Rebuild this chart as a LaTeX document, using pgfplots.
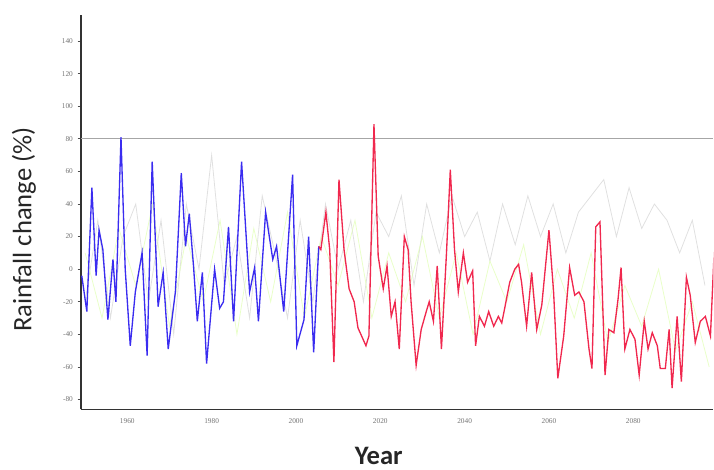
\documentclass[border=0pt]{standalone}
\usepackage{pgfplots}
\pgfplotsset{compat=1.18}
\usepackage{fontspec}
\setmainfont{Carlito}
\newfontfamily\tickfont{Liberation Serif}
\definecolor{blueline}{HTML}{3A2CF0}
\definecolor{redline}{HTML}{F0284E}
\begin{document}
\begin{tikzpicture}
\begin{axis}[
  scale only axis,
  width=474.75pt, height=296pt,
  xmin=1949, xmax=2099,
  ymin=-86, ymax=156,
  axis x line*=bottom,
  axis y line*=left,
  axis line style={black!80, line width=0.9pt},
  xtick={1960,1980,2000,2020,2040,2060,2080},
  ytick={-80,-60,-40,-20,0,20,40,60,80,100,120,140},
  major tick length=2.5pt,
  tick align=outside,
  tick style={black!70, line width=0.5pt},
  x tick style={draw=none},
  /pgf/number format/assume math mode=true,
  /pgf/number format/1000 sep={},
  ticklabel style={font=\tickfont\fontsize{5.5}{6}\selectfont, text=black!55},
  xticklabel style={yshift=-1pt},
  ylabel={Rainfall change (\%)},
  ylabel style={font=\fontsize{20}{22}\selectfont, text=black!85,
    at={(axis description cs:-0.09,0.456)}, anchor=center},
  xlabel={\textbf{Year}},
  xlabel style={font=\fontsize{20}{22}\selectfont, text=black!85,
    at={(axis description cs:0.471,0)}, anchor=center, yshift=-35pt},
  clip=true,
]
% faint background ensemble lines
\addplot[color=black!20, opacity=0.6, line width=0.6pt] coordinates {
(1950,-20) (1953,30) (1956,-30) (1959,20) (1962,40) (1965,-20) (1968,30) (1971,-40)
(1974,40) (1977,0) (1980,70) (1983,-10) (1986,20) (1989,-30) (1992,45) (1995,10)
(1998,-30) (2001,30) (2004,-20) (2007,40) (2010,0) (2013,30) (2016,-20) (2019,35)
(2022,20) (2025,45) (2028,-10) (2031,40) (2034,10) (2037,45) (2040,20) (2043,35)
(2046,5) (2049,40) (2052,15) (2055,45) (2058,20) (2061,40) (2064,10) (2067,35)
(2070,45) (2073,55) (2076,20) (2079,50) (2082,25) (2085,40) (2088,30) (2091,10)
(2094,30) (2097,-10)
};
\addplot[color=green!40!yellow!30, opacity=0.7, line width=0.6pt] coordinates {
(1950,10) (1954,-30) (1958,25) (1962,-10) (1966,40) (1970,-35) (1974,20) (1978,-20)
(1982,30) (1986,-40) (1990,25) (1994,-20) (1998,35) (2002,-30) (2006,20) (2010,-10)
(2014,30) (2018,-30) (2022,10) (2026,-20) (2030,20) (2034,-30) (2038,10) (2042,-40)
(2046,5) (2050,-20) (2054,15) (2058,-40) (2062,0) (2066,-30) (2070,10) (2074,-45)
(2078,-10) (2082,-35) (2086,0) (2090,-50) (2094,-20) (2098,-60)
};
% reference line at 80
\addplot[color=black!35, line width=0.6pt] coordinates {(1949,80) (2099,80)};
% observed / historical (blue)
\addplot[color=blueline, line width=1pt] coordinates {
(1949.2,-4) (1950.4,-26) (1951.6,50) (1952.6,-4) (1953.3,24) (1954.2,12) (1955.4,-31)
(1956.6,6) (1957.3,-20) (1958.5,81) (1959.5,0) (1960.7,-47) (1961.9,-14) (1963.5,10)
(1964.7,-53) (1965.9,66) (1967.3,-23) (1968.5,-2) (1969.7,-49) (1971.4,-14) (1972.8,59)
(1973.8,14) (1974.7,34) (1975.7,2) (1976.6,-32) (1977.8,-2) (1978.8,-58) (1980.7,0)
(1981.9,-24) (1982.8,-20) (1984.0,26) (1985.2,-32) (1987.1,66) (1989.0,-14) (1990.2,1)
(1991.1,-32) (1992.8,35) (1994.5,6) (1995.4,14) (1997.1,-26) (1999.2,58) (2000.2,-47)
(2001.9,-31) (2003.0,20) (2004.2,-51) (2005.4,14)
};
% projection (red)
\addplot[color=redline, line width=1pt] coordinates {
(2005.4,14) (2005.9,12) (2007.1,35) (2008.0,12) (2009.0,-57) (2010.2,55) (2011.4,12)
(2012.6,-12) (2013.8,-20) (2014.7,-36) (2016.6,-47) (2017.3,-41) (2018.5,89)
(2019.5,8) (2020.7,-12) (2021.6,2) (2022.6,-29) (2023.5,-20) (2024.5,-49) (2025.7,20)
(2026.6,12) (2027.3,-20) (2028.5,-59) (2029.7,-37) (2030.9,-26) (2031.6,-20)
(2032.6,-32) (2033.5,2) (2034.5,-49) (2035.7,10) (2036.6,61) (2037.6,12) (2038.5,-14)
(2039.7,10) (2040.7,-8) (2041.9,-1) (2042.6,-47) (2043.5,-29) (2044.7,-35) (2045.7,-26)
(2046.9,-35) (2048.0,-29) (2048.8,-33) (2049.5,-24) (2050.7,-8) (2051.9,0) (2052.8,3)
(2053.5,-8) (2054.7,-35) (2055.9,-2) (2057.1,-37) (2058.3,-22) (2060.0,24) (2061.1,-14)
(2062.1,-67) (2063.5,-41) (2064.9,1) (2066.1,-16) (2067.1,-14) (2068.3,-20) (2069.5,-49)
(2070.2,-61) (2071.1,26) (2072.1,29) (2073.3,-65) (2074.2,-37) (2075.4,-39) (2076.4,-18)
(2077.1,1) (2078.0,-49) (2079.2,-37) (2080.4,-43) (2081.4,-65) (2082.6,-32) (2083.5,-49)
(2084.5,-39) (2085.7,-47) (2086.4,-61) (2087.6,-61) (2088.5,-37) (2089.2,-73)
(2090.4,-29) (2091.4,-69) (2092.6,-5) (2093.5,-16) (2094.7,-45) (2095.9,-32)
(2097.1,-29) (2098.3,-41) (2099.7,41)
};
\end{axis}
\path ([xshift=-60.75pt,yshift=-45pt]current axis.south west) rectangle ([yshift=11.25pt]current axis.north east);
\end{tikzpicture}
\end{document}
